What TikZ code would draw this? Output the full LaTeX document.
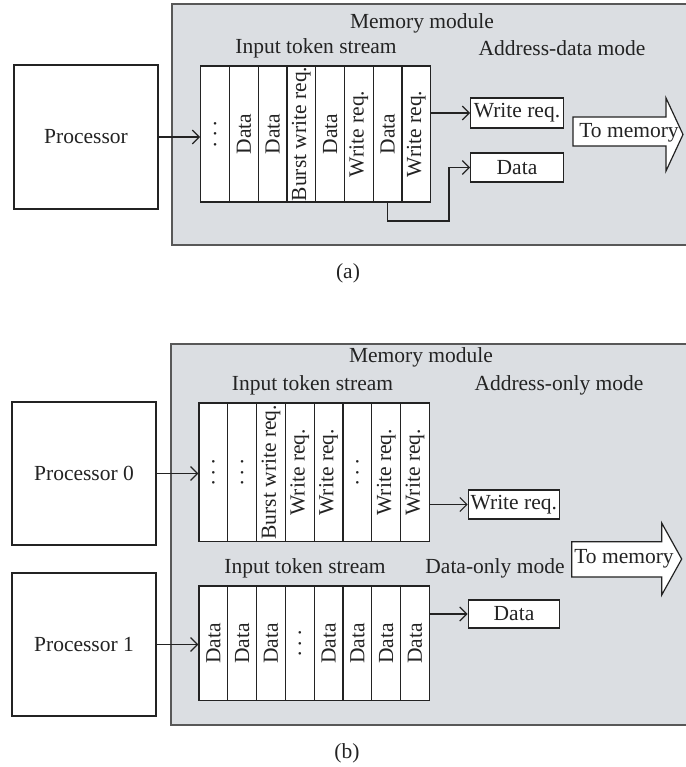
\documentclass[tikz,border=0pt]{standalone}
\usepackage{fontspec}
\setmainfont{Liberation Serif}
\usepackage{graphicx}
\usetikzlibrary{arrows.meta}

\definecolor{modfill}{RGB}{219,222,226}
\definecolor{modedge}{RGB}{88,88,88}
\definecolor{ink}{RGB}{35,35,35}

% three stacked dots, set upright inside a rotated column
\newcommand{\tokdots}{.\hspace{5pt}.\hspace{5pt}.}

\tikzset{
  every node/.append style={font=\fontsize{21.5}{25}\selectfont, text=ink},
  module/.style={fill=modfill},
  moduleedge/.style={draw=modedge, line width=2pt},
  procbox/.style={draw=ink, line width=1.2pt, fill=white, inner sep=0pt,
                  minimum width=144pt},
  cell/.style={draw=ink, line width=1.2pt, fill=white, inner sep=0pt},
  outbox/.style={draw=ink, line width=1.2pt, fill=white, inner sep=0pt},
  label/.style={inner sep=0pt},
  link/.style={draw=ink, line width=1.2pt,
               -{Straight Barb[length=7pt,width=14pt]}},
  bigarrow/.style={draw=ink, line width=1.2pt, fill=white, line join=miter},
}

\begin{document}
\begin{tikzpicture}[x=1pt, y=-1pt]
\useasboundingbox (0,0) rectangle (685,767);

% ---------------- (a) single processor, address-data mode ----------------
\fill[module] (172,4.5) rectangle (690,245);
\draw[moduleedge] (690,4.5) -- (172,4.5) -- (172,245) -- (690,245);

\node[label] (memA) at (422,23) {Memory module};
\node[label] (itsA) at (316,48.5) {Input token stream};
\node[label] (modeA) at (562,48.5) {Address-data mode};

\node[procbox, minimum height=144pt] (proc) at (86,137) {Processor};

\foreach \lab [count=\i] in {{\tokdots},{Data},{Data},{Burst write req.},{Data},{Write req.},{Data},{Write req.}} {
  \node[cell, minimum width=28.75pt, minimum height=136pt]
    (a\i) at ({200.7+28.75*(\i-0.5)},134) {\rotatebox{90}{\lab}};
}

\node[outbox, minimum width=92.6pt, minimum height=30pt] (wrA) at (517,113) {Write req.};
\node[outbox, minimum width=92.6pt, minimum height=29pt] (dataA) at (517,167.5) {Data};

\draw[link] (proc.east) -- (proc.east -| a1.west);
\draw[link] (wrA.west -| a8.east) -- (wrA.west);
\coordinate (turnA) at (449,221);
\draw[link] (a7.south) |- (turnA) |- (dataA.west);

\draw[bigarrow] (573,117) -- (666,117) -- (666,98) -- (683,134.5)
  -- (666,171) -- (666,146) -- (573,146) -- cycle;
\node[label] (tomemA) at (629,132.5) {To memory};

\node[label] (capA) at (348,273) {(a)};

% ---------------- (b) two processors, split address / data ----------------
\fill[module] (170.5,344) rectangle (690,724.5);
\draw[moduleedge] (690,344) -- (170.5,344) -- (170.5,724.5) -- (690,724.5);

\node[label] (memB) at (421,357) {Memory module};
\node[label] (itsB) at (312.5,385) {Input token stream};
\node[label] (modeB) at (559,385) {Address-only mode};
\node[label] (itsC) at (305,568) {Input token stream};
\node[label] (modeC) at (495,568) {Data-only mode};

\node[procbox, minimum height=143pt] (proc0) at (84,473.5) {Processor 0};
\node[procbox, minimum height=143pt] (proc1) at (84,644.5) {Processor 1};

\foreach \lab [count=\i] in {{\tokdots},{\tokdots},{Burst write req.},{Write req.},{Write req.},{\tokdots},{Write req.},{Write req.}} {
  \node[cell, minimum width=28.8pt, minimum height=138.7pt]
    (b\i) at ({199+28.8*(\i-0.5)},472.3) {\rotatebox{90}{\lab}};
}
\foreach \lab [count=\i] in {{Data},{Data},{Data},{\tokdots},{Data},{Data},{Data},{Data}} {
  \node[cell, minimum width=28.8pt, minimum height=114.7pt]
    (c\i) at ({199+28.8*(\i-0.5)},643.3) {\rotatebox{90}{\lab}};
}

\node[outbox, minimum width=91pt, minimum height=29pt] (wrB) at (513.8,504.5) {Write req.};
\node[outbox, minimum width=91.7pt, minimum height=28pt] (dataB) at (514,614) {Data};

\draw[link] (proc0.east) -- (proc0.east -| b1.west);
\draw[link] (proc1.east) -- (proc1.east -| c1.west);
\draw[link] (wrB.west -| b8.east) -- (wrB.west);
\draw[link] (dataB.west -| c8.east) -- (dataB.west);

\draw[bigarrow] (571.7,541.7) -- (661.7,541.7) -- (661.7,523) -- (681.7,559)
  -- (661.7,595) -- (661.7,577) -- (571.7,577) -- cycle;
\node[label] (tomemB) at (624,558.5) {To memory};

\node[label] (capB) at (347,753) {(b)};
\end{tikzpicture}
\end{document}
